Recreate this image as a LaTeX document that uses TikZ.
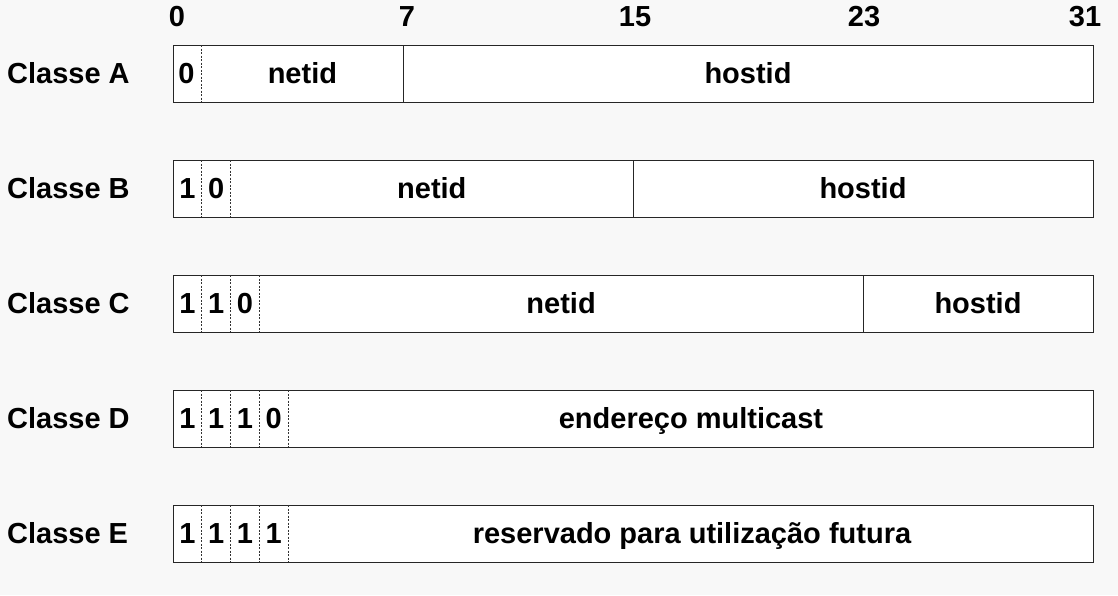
\documentclass[tikz,border=0pt]{standalone}
\usepackage{fontspec}
\setmainfont{Liberation Sans}
\definecolor{paper}{HTML}{F8F8F8}
\tikzset{
  field/.style={draw=black!85, fill=white, line width=1pt},
  bitsep/.style={draw=black!80, line width=0.8pt, dash pattern=on 2pt off 1.5pt},
  txt/.style={font=\bfseries\fontsize{29}{32}\selectfont, inner sep=0pt, anchor=base},
}
\begin{document}
\begin{tikzpicture}[x=1pt, y=-1pt, every node/.style={txt}]
  \fill[paper] (0,0) rectangle (1118,595);
  % posicoes dos bits
  \node (bit0) at (177,26) {0};
  \node (bit7) at (407,26) {7};
  \node (bit15) at (635,26) {15};
  \node (bit23) at (864,26) {23};
  \node (bit31) at (1085,26) {31};

  % Classe A
  \node[anchor=base west] (classA) at (7,83.5) {Classe A};
  \draw[field] (173,45) rectangle (1093,102);
  \draw[bitsep] (201.75,45) -- (201.75,102);
  \draw[field] (403,45) -- (403,102);
  \node (a0) at (186.4,83.5) {0};
  \node (anet) at (302.4,83.5) {netid};
  \node (ahost) at (748,83.5) {hostid};

  % Classe B
  \node[anchor=base west] (classB) at (7,198.5) {Classe B};
  \draw[field] (173,160) rectangle (1093,217);
  \foreach \x in {201.75,230.5} \draw[bitsep] (\x,160) -- (\x,217);
  \draw[field] (633,160) -- (633,217);
  \node (b0) at (187.4,198.5) {1};
  \node (b1) at (216.1,198.5) {0};
  \node (bnet) at (431.8,198.5) {netid};
  \node (bhost) at (863,198.5) {hostid};

  % Classe C
  \node[anchor=base west] (classC) at (7,313.5) {Classe C};
  \draw[field] (173,275) rectangle (1093,332);
  \foreach \x in {201.75,230.5,259.25} \draw[bitsep] (\x,275) -- (\x,332);
  \draw[field] (863,275) -- (863,332);
  \node (c0) at (187.4,313.5) {1};
  \node (c1) at (216.1,313.5) {1};
  \node (c2) at (244.9,313.5) {0};
  \node (cnet) at (561.1,313.5) {netid};
  \node (chost) at (978,313.5) {hostid};

  % Classe D
  \node[anchor=base west] (classD) at (7,428.5) {Classe D};
  \draw[field] (173,390) rectangle (1093,447);
  \foreach \x in {201.75,230.5,259.25,288} \draw[bitsep] (\x,390) -- (\x,447);
  \node (d0) at (187.4,428.5) {1};
  \node (d1) at (216.1,428.5) {1};
  \node (d2) at (244.9,428.5) {1};
  \node (d3) at (273.6,428.5) {0};
  \node (dmulti) at (691,428.5) {endereço multicast};

  % Classe E
  \node[anchor=base west] (classE) at (7,543.5) {Classe E};
  \draw[field] (173,505) rectangle (1093,562);
  \foreach \x in {201.75,230.5,259.25,288} \draw[bitsep] (\x,505) -- (\x,562);
  \node (e0) at (187.4,543.5) {1};
  \node (e1) at (216.1,543.5) {1};
  \node (e2) at (244.9,543.5) {1};
  \node (e3) at (273.6,543.5) {1};
  \node (efut) at (692,543.5) {reservado para utilização futura};
\end{tikzpicture}
\end{document}
